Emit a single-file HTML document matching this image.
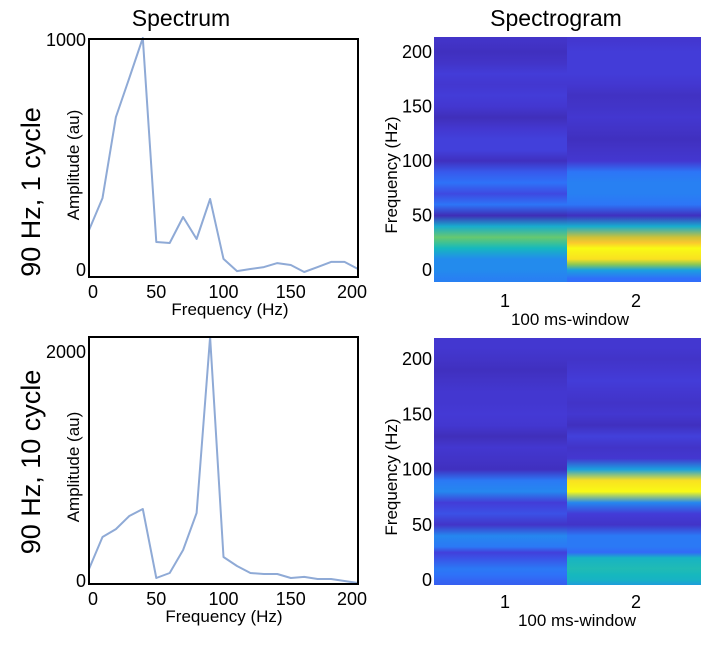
<!DOCTYPE html>
<html><head><meta charset="utf-8"><style>
html,body{margin:0;padding:0;background:#fff;}
svg{display:block;font-family:"Liberation Sans",Arial,sans-serif;}
</style></head><body>
<svg id="fig" width="718" height="647" viewBox="0 0 718 647" xmlns="http://www.w3.org/2000/svg">
<defs id="defs"></defs>
<text x="181" y="26" font-size="23" text-anchor="middle">Spectrum</text>
<text x="556" y="26" font-size="23" text-anchor="middle">Spectrogram</text>
<text transform="translate(40,192) rotate(-90)" font-size="27" text-anchor="middle">90 Hz, 1 cycle</text>
<text transform="translate(40,462) rotate(-90)" font-size="27" text-anchor="middle">90 Hz, 10 cycle</text>
<g id="plots"></g>
</svg>
<script>
var NS="http://www.w3.org/2000/svg";
// Spectrum data (frequency bins, Hz)
var specFreqs=[0,10,20,30,40,50,60,70,80,90,100,110,120,130,140,150,160,170,180,190,200];
var amp1=[179,316,662,829,1000,128,124,235,141,312,56,4,13,21,38,30,0,21,43,43,13];
var amp2=[120,395,463,575,635,43,86,283,601,2112,223,146,86,77,77,43,52,34,34,17,0];
var xTicks=[0,50,100,150,200];
var yTicks1=[0,1000];
var yTicks2=[0,2000];
// Spectrogram data (normalized power per frequency bin)
var sgFreqs=[-8,0,5,10,20,25,30,40,50,60,70,80,90,100,110,120,130,140,150,160,170,180,190,200,210,220];
var sg1w1=[0.3,0.33,0.33,0.33,0.5,0.58,0.65,0.45,0.05,0.27,0.16,0.26,0.2,0.07,0.14,0.14,0.11,0.06,0.11,0.13,0.11,0.13,0.09,0.07,0.09,0.09];
var sg1w2=[0.25,0.4,0.7,0.95,1.0,0.9,0.8,0.45,0.07,0.27,0.3,0.3,0.27,0.11,0.09,0.07,0.09,0.11,0.09,0.08,0.11,0.13,0.13,0.13,0.11,0.11];
var sg2w1=[0.2,0.23,0.26,0.28,0.18,0.14,0.28,0.32,0.09,0.18,0.13,0.32,0.28,0.07,0.09,0.11,0.06,0.11,0.12,0.11,0.11,0.09,0.07,0.09,0.11,0.11];
var sg2w2=[0.33,0.48,0.5,0.52,0.48,0.24,0.28,0.28,0.09,0.13,0.32,1.0,0.95,0.4,0.11,0.09,0.14,0.07,0.11,0.09,0.11,0.13,0.11,0.09,0.11,0.11];
var sgTicks=[0,50,100,150,200];
var windows=["1","2"];

var plots=document.getElementById('plots');
var defs=document.getElementById('defs');
function el(tag,attrs,parent,text){var e=document.createElementNS(NS,tag);for(var k in attrs)e.setAttribute(k,attrs[k]);if(text!==undefined)e.textContent=text;(parent||plots).appendChild(e);return e;}

function parula(v){
  var st=[[0,60,36,160],[0.125,68,58,215],[0.25,48,110,250],[0.375,28,155,230],[0.5,22,184,190],[0.625,85,200,125],[0.75,175,198,58],[0.875,250,188,52],[1,249,250,20]];
  v=Math.max(0,Math.min(1,v));
  for(var i=1;i<st.length;i++){if(v<=st[i][0]){var a=st[i-1],b=st[i],t=(v-a[0])/(b[0]-a[0]);
    return 'rgb('+Math.round(a[1]+t*(b[1]-a[1]))+','+Math.round(a[2]+t*(b[2]-a[2]))+','+Math.round(a[3]+t*(b[3]-a[3]))+')';}}
  return 'rgb(249,250,20)';
}

function spectrum(o){
  var L=89,R=358,T=o.top,B=o.bottom;
  function xs(f){return L+(f-0)/200*(R-L);}
  function ys(v){return o.y0+(v/o.yref)*(o.yrefPx-o.y0);}
  var g=el('g',{});
  
  
  var pts=specFreqs.map(function(f,i){return xs(f).toFixed(1)+','+ys(o.vals[i]).toFixed(1);}).join(' ');
  var line=el('polyline',{points:pts,fill:'none',stroke:'#8faad6','stroke-width':2,'stroke-linejoin':'round'},g);
  
  
  var fr=el('rect',{x:L,y:T,width:R-L,height:B-T,fill:'none',stroke:'#000','stroke-width':2},g);
  
  
  xTicks.forEach(function(t){var tx=el('text',{x:xs(t)+(t===0?4:(t===200?-6:0)),y:B+21,'font-size':18,'text-anchor':'middle'},g,String(t));
    
    });
  o.yt.forEach(function(t){var tx=el('text',{x:L-3,y:ys(t)+(t===0?4:8),'font-size':18,'text-anchor':'end'},g,String(t));
    
    });
  var xl=el('text',{x:o.xlx,y:B+38,'font-size':17,'text-anchor':'middle'},g,'Frequency  (Hz)');
  
  
  var yl=el('text',{transform:'translate(79,'+o.ylc+') rotate(-90)','font-size':17,'text-anchor':'middle'},g,'Amplitude  (au)');
  
  
}
spectrum({name:'spectrum-1cycle',top:39,bottom:277,vals:amp1,y0:272,yref:1000,yrefPx:38,yt:yTicks1,xlx:230,ylc:165});
spectrum({name:'spectrum-10cycle',top:337,bottom:584,vals:amp2,y0:583,yref:2000,yrefPx:350,yt:yTicks2,xlx:224,ylc:467});

function spectrogram(o){
  var L=434,R=701,M=567,T=o.top,B=o.bottom;
  function ys(f){return o.y0+f/200*(o.y200-o.y0);}
  var g=el('g',{});
  
  
  var cols=[[L,M,o.w1],[M,R,o.w2]];
  cols.forEach(function(c,ci){
    var id=o.name+'-g'+ci;
    var lg=el('linearGradient',{id:id,gradientUnits:'userSpaceOnUse',x1:0,x2:0,y1:ys(sgFreqs[0]),y2:ys(sgFreqs[sgFreqs.length-1])},defs);
    var span=sgFreqs[sgFreqs.length-1]-sgFreqs[0];
    sgFreqs.forEach(function(f,i){el('stop',{offset:((f-sgFreqs[0])/span).toFixed(4),'stop-color':parula(c[2][i])},lg);});
    var r=el('rect',{x:c[0],y:T,width:c[1]-c[0],height:B-T,fill:'url(#'+id+')'},g);
    
    
    var tl=el('text',{x:ci===0?505:636,y:o.xtY,'font-size':18,'text-anchor':'middle'},g,windows[ci]);
    
    
  });
  sgTicks.forEach(function(t){var tx=el('text',{x:432,y:ys(t)+6,'font-size':18,'text-anchor':'end'},g,String(t));
    
    });
  var xl=el('text',{x:o.xlx,y:o.xtY+18,'font-size':17,'text-anchor':'middle'},g,'100 ms-window');
  
  
  var yl=el('text',{transform:'translate(397,'+o.ylc+') rotate(-90)','font-size':17,'text-anchor':'middle'},g,'Frequency  (Hz)');
  
  
}
spectrogram({name:'spectrogram-1cycle',top:37,bottom:282,y0:270,y200:52,w1:sg1w1,w2:sg1w2,xtY:307,xlx:570,ylc:175});
spectrogram({name:'spectrogram-10cycle',top:338,bottom:585,y0:580,y200:359,w1:sg2w1,w2:sg2w2,xtY:608,xlx:577,ylc:477});
</script>
</body></html>
